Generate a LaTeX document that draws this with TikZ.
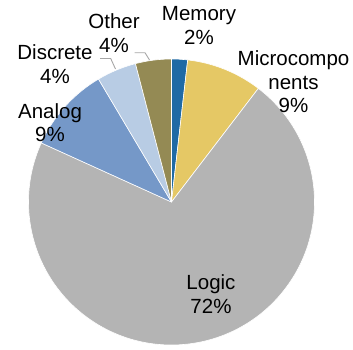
\documentclass[tikz,border=0pt]{standalone}
\usepackage{fontspec}
\setmainfont{Liberation Sans}
\definecolor{cMemory}{HTML}{1F6AA5}
\definecolor{cMicro}{HTML}{E5C865}
\definecolor{cLogic}{HTML}{B4B4B4}
\definecolor{cAnalog}{HTML}{7598C8}
\definecolor{cDiscrete}{HTML}{B8CCE4}
\definecolor{cOther}{HTML}{948A54}
\definecolor{cLeader}{HTML}{A6A6A6}
\begin{document}
\begin{tikzpicture}[x=1pt,y=1pt,
  slice/.style={draw=white,line width=0.6pt,line join=round},
  lbl/.style={align=center,inner sep=0pt,font=\fontsize{20.5}{23.5}\selectfont,text=black},
  leader/.style={draw=cLeader,line width=0.9pt}]
\useasboundingbox (0,0) rectangle (353,349);
\coordinate (c) at (171.5,147);
\def\R{143}
\fill[cMemory,slice] (c) -- ++(90:\R) arc[start angle=90,end angle=83.5,radius=\R] -- cycle;
\fill[cMicro,slice] (c) -- ++(83.5:\R) arc[start angle=83.5,end angle=52.6,radius=\R] -- cycle;
\fill[cLogic,slice] (c) -- ++(52.6:\R) arc[start angle=52.6,end angle=-204.4,radius=\R] -- cycle;
\fill[cAnalog,slice] (c) -- ++(155.6:\R) arc[start angle=155.6,end angle=120.7,radius=\R] -- cycle;
\fill[cDiscrete,slice] (c) -- ++(120.7:\R) arc[start angle=120.7,end angle=104.6,radius=\R] -- cycle;
\fill[cOther,slice] (c) -- ++(104.6:\R) arc[start angle=104.6,end angle=90,radius=\R] -- cycle;
\node[lbl] (memory) at (199,323.5) {Memory\\2\%};
\node[lbl] (micro) at (293.5,267) {Microcompo\\nents\\9\%};
\node[lbl] (logic) at (211,55) {Logic\\72\%};
\node[lbl] (analog) at (50,226.5) {Analog\\9\%};
\node[lbl] (discrete) at (55,285) {Discrete\\4\%};
\node[lbl] (other) at (114,315.7) {Other\\4\%};
\coordinate (dA) at (100,290.5);
\coordinate (dB) at (110.7,290.5);
\coordinate (dC) at (115.5,280);
\coordinate (oA) at (134.5,296.3);
\coordinate (oB) at (145,296.3);
\coordinate (oC) at (149.5,289);
\draw[leader] (dA) -- (dB) -- (dC);
\draw[leader] (oA) -- (oB) -- (oC);
\end{tikzpicture}
\end{document}
